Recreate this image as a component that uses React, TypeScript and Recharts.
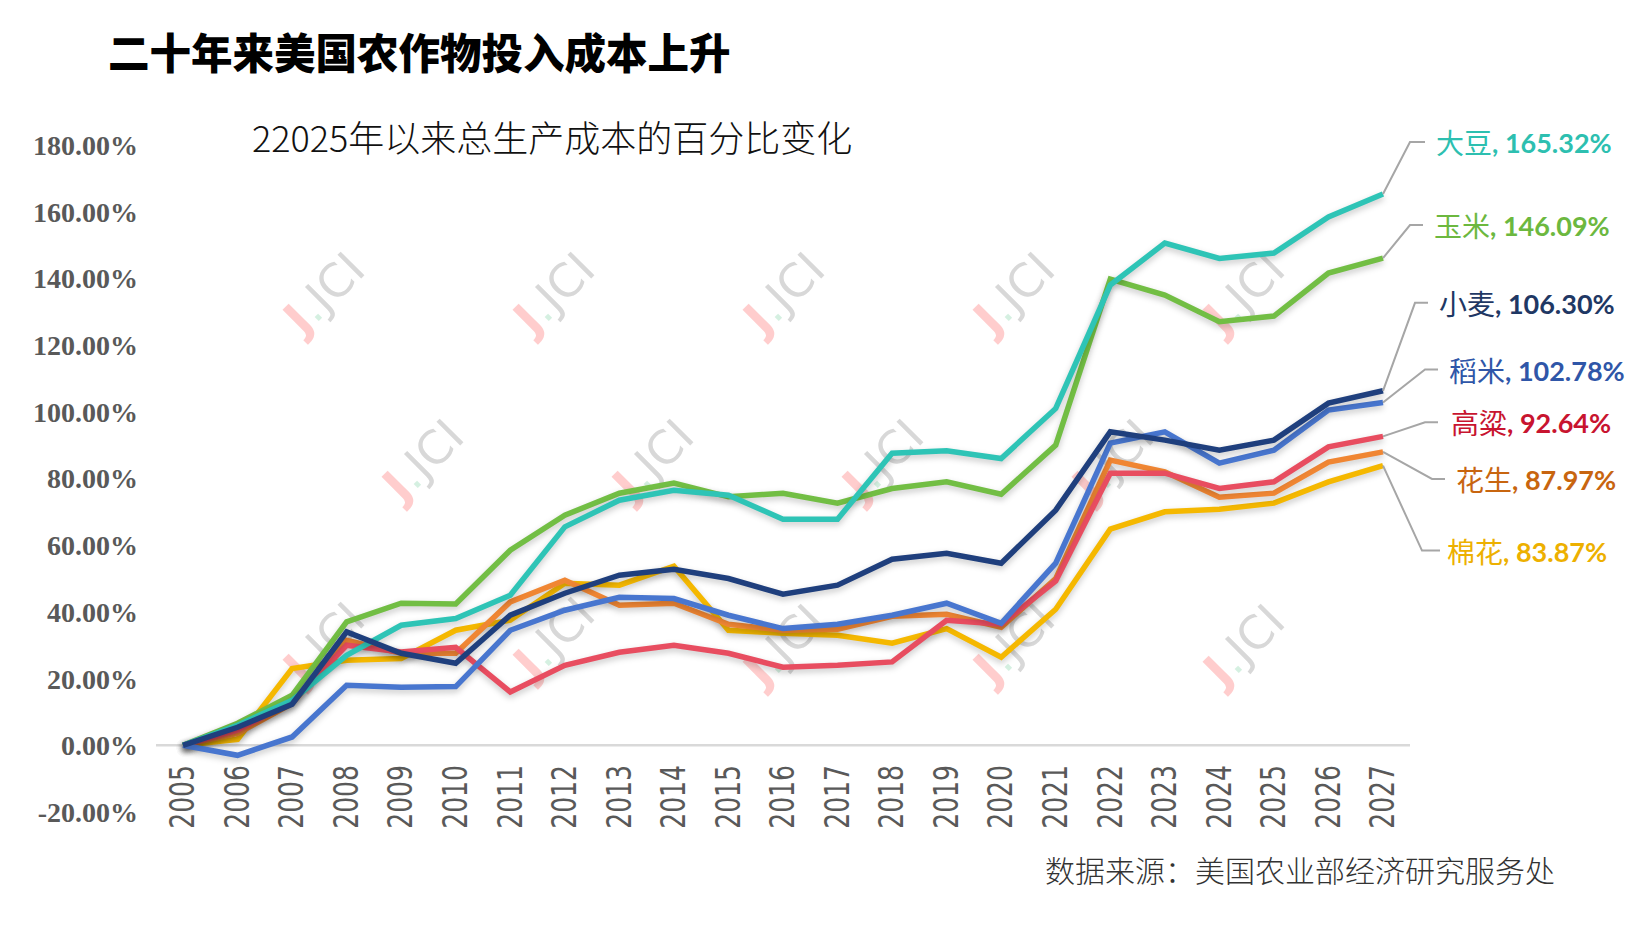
import React from 'react';
import { LineChart, Line, XAxis, YAxis, ReferenceLine, LabelList } from 'recharts';

const years = [
  '2005', '2006', '2007', '2008', '2009', '2010', '2011', '2012', '2013', '2014', '2015', '2016',
  '2017', '2018', '2019', '2020', '2021', '2022', '2023', '2024', '2025', '2026', '2027',
];

// 各作物相对2005年的成本变化（%）
const soybean = [0, 6, 13.5, 27, 36, 38, 45, 65.5, 73.5, 76.5, 75, 67.8, 67.8, 87.6, 88.3, 86, 101, 138, 150.6, 146, 147.6, 158.4, 165.32];
const corn = [0, 6.6, 15, 37, 42.6, 42.4, 58.5, 69, 75.6, 78.6, 74.5, 75.6, 72.6, 77, 79, 75.3, 90, 139.8, 135, 127, 128.7, 141.6, 146.09];
const wheat = [0, 5.4, 12.3, 34, 27.6, 24.6, 39, 45.6, 51, 52.8, 50, 45.3, 48, 55.8, 57.6, 54.6, 70.5, 94, 91.5, 88.5, 91.5, 102.6, 106.3];
const rice = [0, -3, 2.5, 18, 17.4, 17.6, 34.5, 40.5, 44.4, 44, 39, 35, 36.3, 39, 42.6, 36.6, 54.6, 90.6, 94, 84.6, 88.5, 100.5, 102.78];
const sorghum = [0, 4.5, 13, 30, 28, 29.4, 16, 24, 27.9, 30, 27.6, 23.4, 24, 25, 37.5, 36.3, 49.3, 81.6, 81.6, 77, 79, 89.5, 92.64];
const peanut = [0, 3.6, 12.5, 31.5, 27.6, 27.6, 43, 49.5, 42, 42.6, 36.3, 34.5, 34.8, 38.7, 39.3, 35.4, 50, 85.5, 82, 74.4, 75.6, 84.9, 87.97];
const cotton = [0, 1.8, 23, 25.5, 26, 34.5, 37.5, 48.6, 48, 53.7, 34.5, 33.6, 33, 30.6, 35, 26.4, 40.8, 64.8, 70, 70.8, 72.6, 79, 83.87];

const yTicks = [-20, 0, 20, 40, 60, 80, 100, 120, 140, 160, 180];

const series = [
  { key: 'cotton', name: '棉花', values: cotton, color: '#F5B800', labelColor: '#EDB000' },
  { key: 'peanut', name: '花生', values: peanut, color: '#F08633', labelColor: '#C8650F' },
  { key: 'sorghum', name: '高粱', values: sorghum, color: '#E84D60', labelColor: '#C8142F' },
  { key: 'corn', name: '玉米', values: corn, color: '#72BE44', labelColor: '#6CB83F' },
  { key: 'soybean', name: '大豆', values: soybean, color: '#2EC4B6', labelColor: '#2DBFB0' },
  { key: 'rice', name: '稻米', values: rice, color: '#4876CF', labelColor: '#2F56A8' },
  { key: 'wheat', name: '小麦', values: wheat, color: '#1F3F7D', labelColor: '#1F3864' },
];

// 右侧标签的引线与文字偏移（相对末端点）
const labelLayout: Record<string, { dy: number; elbow: number; tail: number; tx: number }> = {
  soybean: { dy: -52, elbow: 27, tail: 42, tx: 53 },
  corn: { dy: -33, elbow: 27, tail: 40, tx: 51 },
  wheat: { dy: -88, elbow: 32, tail: 45, tx: 56 },
  rice: { dy: -33, elbow: 42, tail: 55, tx: 66 },
  sorghum: { dy: -14, elbow: 42, tail: 55, tx: 68 },
  peanut: { dy: 27, elbow: 49, tail: 62, tx: 73 },
  cotton: { dy: 85, elbow: 39, tail: 57, tx: 64 },
};

const watermarks = [
  [324, 293], [554, 293], [784, 293], [1014, 293], [1244, 293],
  [423, 460], [653, 460], [883, 460], [1113, 460],
  [324, 643], [554, 638], [784, 645], [1014, 643], [1244, 645],
];

const data = years.map((year, i) => {
  const row: Record<string, number | string> = { year };
  series.forEach((s) => {
    row[s.key] = s.values[i];
  });
  return row;
});

const YearTick = (props: any) => {
  const { x, y, payload } = props;
  return (
    <g transform={`translate(${x},${y}) rotate(-90)`}>
      <text
        transform="translate(55,0) scale(0.76,1)"
        x={0}
        y={0}
        textAnchor="end"
        dominantBaseline="central"
        fill="#595959"
        fontFamily="'DejaVu Sans', sans-serif"
        fontSize={33}
      >
        {payload.value}
      </text>
    </g>
  );
};

const makeEndLabel = (s: (typeof series)[number]) => (props: any) => {
  const { x, y, index, value } = props;
  if (index !== years.length - 1) return null;
  const l = labelLayout[s.key];
  const ty = y + l.dy;
  return (
    <g>
      <polyline
        points={`${x},${y} ${x + l.elbow},${ty} ${x + l.tail},${ty}`}
        fill="none"
        stroke="#A6A6A6"
        strokeWidth={2}
      />
      <text x={x + l.tx} y={ty} dominantBaseline="central" fill={s.labelColor}>
        <tspan fontFamily="'Noto Sans CJK SC', sans-serif" fontSize={28}>
          {s.name}
        </tspan>
        <tspan fontFamily="Lato, 'Open Sans', sans-serif" fontWeight={700} fontSize={27}>
          {`, ${Number(value).toFixed(2)}%`}
        </tspan>
      </text>
    </g>
  );
};

export default function App() {
  return (
    <div style={{ position: 'absolute', left: 0, top: 0, width: 1638, height: 929, background: '#fff' }}>
      <style>{`.recharts-line-curve { filter: drop-shadow(0px 3px 3px rgba(0,0,0,0.22)); }`}</style>
      <svg width={1638} height={929} style={{ position: 'absolute', left: 0, top: 0 }}>
        {watermarks.map(([cx, cy], i) => (
          <g key={i} transform={`translate(${cx},${cy}) rotate(-45)`} opacity={0.75}>
            <text
              x={0}
              y={0}
              textAnchor="middle"
              dominantBaseline="central"
              fontFamily="'DejaVu Sans', sans-serif"
              fontSize={46}
            >
              <tspan fill="#FFBDBD" fontWeight={700}>J</tspan>
              <tspan fill="#C8EBD8">.</tspan>
              <tspan fill="#CBCBCB">JCI</tspan>
            </text>
          </g>
        ))}
        <text
          x={108}
          y={51}
          dominantBaseline="central"
          fontFamily="'Noto Sans CJK SC', sans-serif"
          fontWeight={900}
          fontSize={41.5}
          fill="#000"
        >
          二十年来美国农作物投入成本上升
        </text>
        <text
          x={252}
          y={136}
          dominantBaseline="central"
          fontFamily="'Noto Sans CJK SC', sans-serif"
          fontWeight={300}
          fontSize={36}
          fill="#111"
        >
          22025年以来总生产成本的百分比变化
        </text>
        <text
          x={1045}
          y={869}
          dominantBaseline="central"
          fontFamily="'Noto Sans CJK SC', sans-serif"
          fontWeight={300}
          fontSize={30}
          fill="#333"
        >
          数据来源：美国农业部经济研究服务处
        </text>
      </svg>
      <div style={{ position: 'absolute', left: 0, top: 0 }}>
        <LineChart width={1638} height={929} data={data} margin={{ top: 145, right: 228, bottom: 17, left: 6 }}>
          <XAxis
            dataKey="year"
            axisLine={false}
            tickLine={false}
            interval={0}
            height={100}
            padding={{ left: 27, right: 27 }}
            tick={<YearTick />}
          />
          <YAxis
            domain={[-20, 180]}
            ticks={yTicks}
            width={150}
            axisLine={false}
            tickLine={false}
            tickSize={0}
            tickMargin={18}
            tickFormatter={(v: number) => `${v.toFixed(2)}%`}
            tick={{
              fill: '#595959',
              fontFamily: "'Liberation Serif', serif",
              fontWeight: 700,
              fontSize: 28,
            }}
          />
          <ReferenceLine y={0} stroke="#D9D9D9" strokeWidth={2.5} />
          {series.map((s) => (
            <Line
              key={s.key}
              type="linear"
              dataKey={s.key}
              stroke={s.color}
              strokeWidth={5.5}
              dot={false}
              activeDot={false}
              isAnimationActive={false}
            >
              <LabelList dataKey={s.key} content={makeEndLabel(s)} />
            </Line>
          ))}
        </LineChart>
      </div>
    </div>
  );
}
